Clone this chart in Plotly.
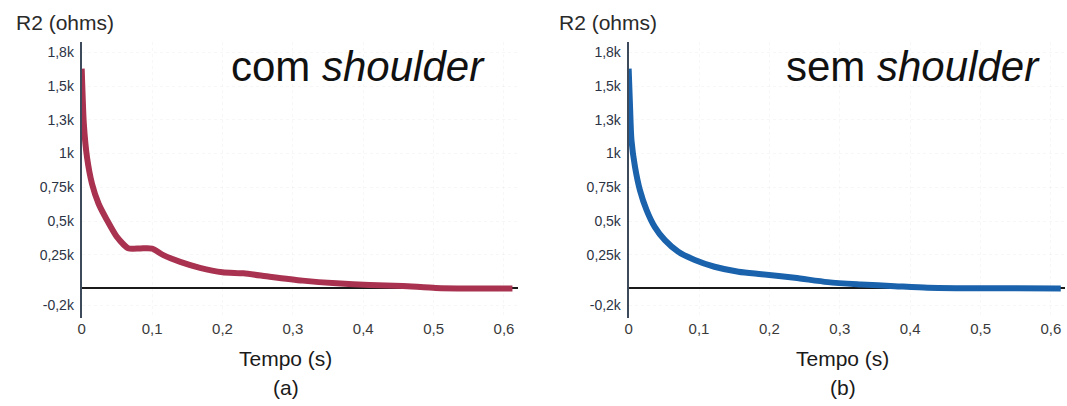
import plotly.graph_objects as go

W, H = 1067, 406

# --- data -------------------------------------------------------------
# R2 resistance (ohms) over time (s), with shoulder
t_com = [0, 0.003, 0.0075, 0.0146, 0.024, 0.036, 0.05, 0.066, 0.083, 0.1, 0.116,
         0.14, 0.168, 0.2, 0.23, 0.267, 0.314, 0.362, 0.409, 0.456, 0.503, 0.55, 0.612]
r_com = [1629, 1221, 974, 777, 628, 506, 382, 298, 297, 296, 247,
         197, 153, 120, 112, 87, 58, 38, 26, 18, 4, 0, 0]

# R2 resistance (ohms) over time (s), without shoulder
t_sem = [0, 0.002, 0.004, 0.009, 0.016, 0.0255, 0.037, 0.0515, 0.0705, 0.094, 0.122,
         0.156, 0.189, 0.236, 0.283, 0.33, 0.378, 0.425, 0.472, 0.52, 0.614]
r_sem = [1629, 1345, 1099, 902, 729, 581, 457, 358, 272, 211, 161,
         124, 105, 79, 47, 30, 17, 5, 2, 1, 0]

x_tickvals = [0, 0.1, 0.2, 0.3, 0.4, 0.5, 0.6]
x_ticktext = ["0", "0,1", "0,2", "0,3", "0,4", "0,5", "0,6"]
y_tickvals = [-125, 250, 500, 750, 1000, 1250, 1500, 1750]
y_ticktext = ["-0,2k", "0,25k", "0,5k", "0,75k", "1k", "1,3k", "1,5k", "1,8k"]

panel_labels = ["com <i>shoulder</i>", "sem <i>shoulder</i>"]
sub_labels = ["(a)", "(b)"]

RED = "#a8324f"
BLUE = "#1a62ab"
FONT = "Liberation Sans, Arial, sans-serif"


def px(x):
    return x / W


def py(y):
    return 1 - y / H


fig = go.Figure()
fig.add_trace(go.Scatter(x=t_com, y=r_com, mode="lines",
                         line=dict(color=RED, width=6, shape="spline", smoothing=0.6),
                         xaxis="x", yaxis="y", showlegend=False, hoverinfo="skip"))
fig.add_trace(go.Scatter(x=t_sem, y=r_sem, mode="lines",
                         line=dict(color=BLUE, width=6, shape="spline", smoothing=0.8),
                         xaxis="x2", yaxis="y2", showlegend=False, hoverinfo="skip"))

xrange = [0, 0.62]
yrange = [-219, 1827]
ydom = [py(318), py(42)]

common_x = dict(range=xrange, tickvals=x_tickvals, ticktext=x_ticktext,
                showline=False, zeroline=False, ticks="",
                showgrid=True, gridcolor="rgba(0,0,0,0.03)", griddash="dot",
                tickfont=dict(family=FONT, size=15, color="#3a3a3a"),
                fixedrange=True)
common_y = dict(range=yrange, domain=ydom, tickvals=y_tickvals, ticktext=y_ticktext,
                showline=True, linecolor="#3d4a5c", linewidth=2, ticks="",
                zeroline=True, zerolinecolor="#1a1a1a", zerolinewidth=2,
                showgrid=True, gridcolor="rgba(0,0,0,0.03)", griddash="dot",
                tickfont=dict(family=FONT, size=14, color="#2c3344"),
                ticklabelstandoff=3, fixedrange=True)

fig.update_layout(
    width=W, height=H,
    margin=dict(l=0, r=0, t=0, b=0),
    paper_bgcolor="white", plot_bgcolor="white",
    xaxis=dict(domain=[px(78), px(516)], anchor="y", **common_x),
    yaxis=dict(anchor="x", **common_y),
    xaxis2=dict(domain=[px(627), px(1065)], anchor="y2", **common_x),
    yaxis2=dict(anchor="x2", **common_y),
)

annos = []
for i in range(2):
    off = 0 if i == 0 else 549
    # y-axis title
    annos.append(dict(x=px(10 + off - (4 if i else 0)), y=py(22), xref="paper", yref="paper",
                      text="R2 (ohms)", showarrow=False, xanchor="left", yanchor="middle",
                      font=dict(family=FONT, size=21, color="#2a2a2a")))
    # panel label
    annos.append(dict(x=px(355 + off + (8 if i else 0)), y=py(67), xref="paper", yref="paper",
                      text=panel_labels[i], showarrow=False, xanchor="center", yanchor="middle",
                      font=dict(family=FONT, size=42, color="#111111")))
    # x-axis title
    annos.append(dict(x=px(283 + off + (10 if i else 0)), y=py(358), xref="paper", yref="paper",
                      text="Tempo (s)", showarrow=False, xanchor="center", yanchor="middle",
                      font=dict(family=FONT, size=21, color="#1a1a1a")))
    # sub-figure tag
    annos.append(dict(x=px(283 + off + (10 if i else 0)), y=py(387), xref="paper", yref="paper",
                      text=sub_labels[i], showarrow=False, xanchor="center", yanchor="middle",
                      font=dict(family=FONT, size=21, color="#1a1a1a")))
fig.update_layout(annotations=annos)

fig.write_html("out.html", config={"displayModeBar": False})
